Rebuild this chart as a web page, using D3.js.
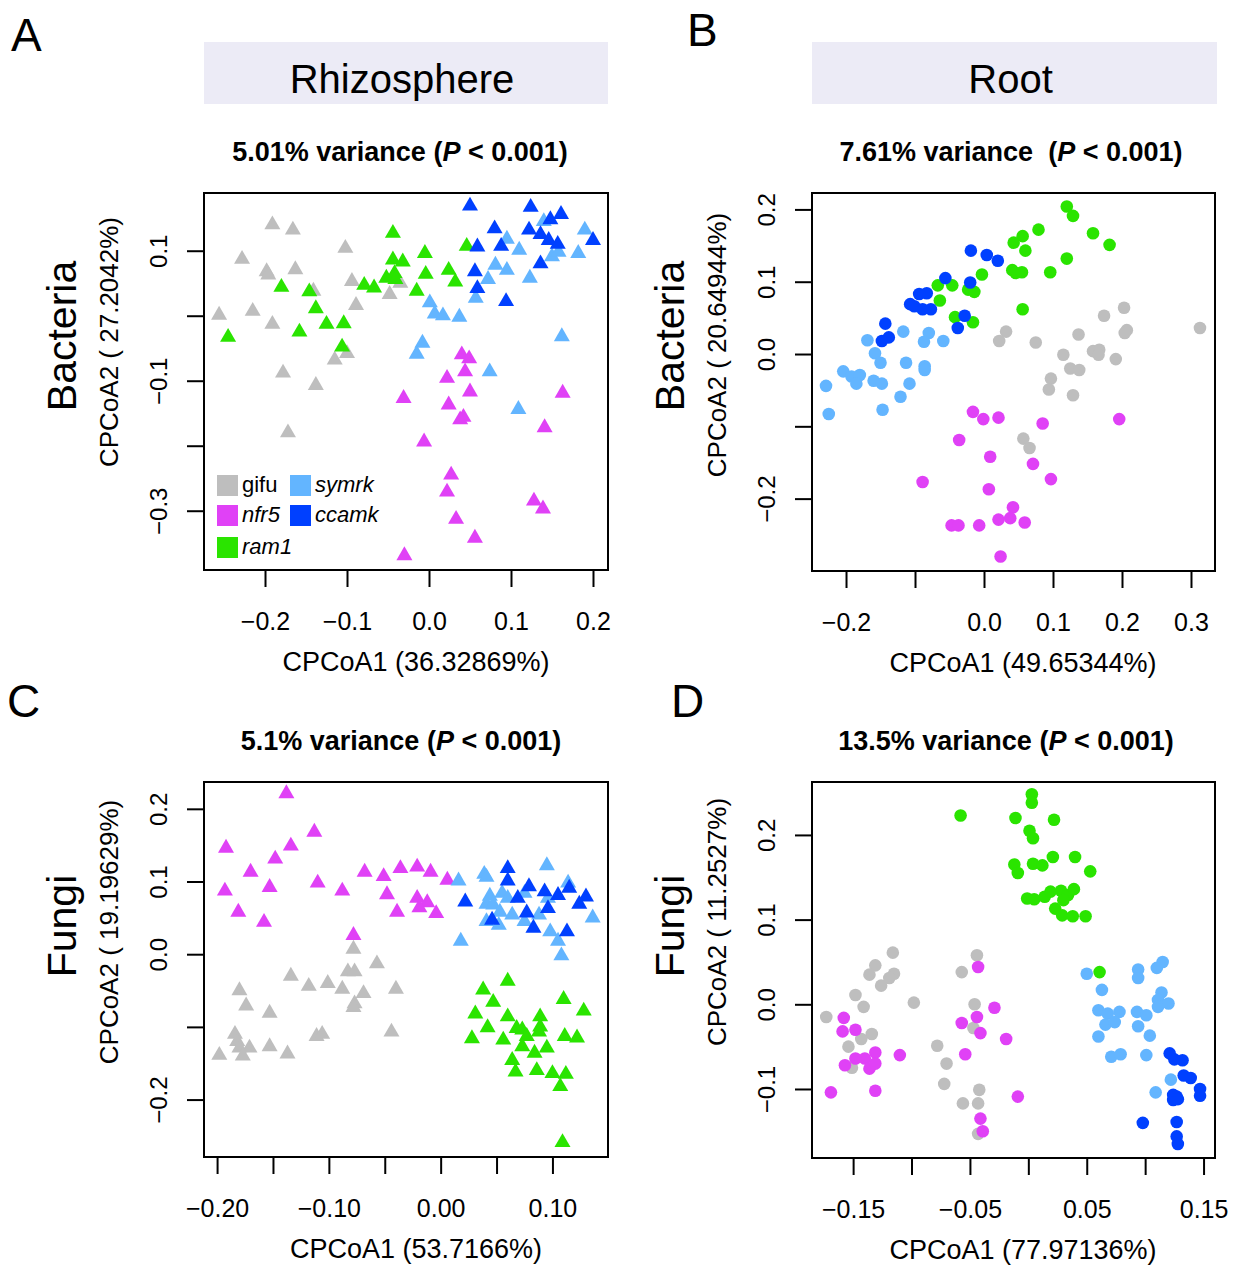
<!DOCTYPE html>
<html>
<head>
<meta charset="utf-8">
<script src="https://cdn.jsdelivr.net/npm/d3@7"></script>
<style>
body{margin:0;background:#fff;}
text{font-family:"Liberation Sans",Arial,Helvetica,sans-serif;fill:#000;}
</style>
</head>
<body>
<div id="chart"></div>
<script>
// genotypes, drawn in this order
const groups = ['gifu', 'nfr5', 'ram1', 'symrk', 'ccamk'];
const groupColors = ['#BEBEBE', '#E041F6', '#2AE400', '#63B5FF', '#0040FF'];

// A: rhizosphere, bacteria  [CPCoA1, CPCoA2]
const aGifu = [[-0.191,0.140],[-0.166,0.132],[-0.228,0.087],[-0.102,0.104],[-0.198,0.068],[-0.196,0.063],[-0.163,0.071],[-0.094,0.053],[-0.141,0.038],[-0.035,0.050],[-0.048,0.033],[-0.089,0.016],[-0.256,0.001],[-0.215,0.007],[-0.191,-0.013],[-0.100,-0.058],[-0.115,-0.068],[-0.178,-0.088],[-0.138,-0.107],[-0.172,-0.180]];
const aNfr5 = [[0.040,-0.060],[0.049,-0.066],[0.044,-0.086],[0.022,-0.096],[0.050,-0.117],[0.163,-0.119],[-0.031,-0.127],[0.024,-0.137],[0.042,-0.156],[0.038,-0.160],[0.141,-0.172],[-0.006,-0.194],[0.027,-0.245],[0.022,-0.271],[0.128,-0.285],[0.139,-0.297],[0.033,-0.313],[0.056,-0.342],[-0.030,-0.369]];
const aRam1 = [[-0.044,0.127],[0.046,0.107],[-0.005,0.096],[-0.044,0.086],[-0.032,0.083],[0.024,0.070],[-0.004,0.064],[-0.042,0.065],[-0.052,0.058],[-0.041,0.056],[0.032,0.052],[-0.079,0.047],[-0.067,0.043],[-0.015,0.038],[-0.180,0.044],[-0.146,0.037],[-0.138,0.011],[-0.125,-0.013],[-0.104,-0.012],[-0.158,-0.025],[-0.245,-0.033],[-0.106,-0.048]];
const aSymrk = [[0.190,0.132],[0.095,0.118],[0.110,0.101],[0.182,0.096],[0.150,0.091],[0.158,0.098],[0.081,0.078],[0.095,0.070],[0.072,0.056],[0.123,0.058],[0.057,0.027],[0.001,0.020],[0.007,0.003],[0.017,0.000],[0.037,-0.002],[0.162,-0.032],[-0.008,-0.042],[-0.015,-0.059],[0.074,-0.086],[0.109,-0.144],[0.140,0.145]];
const aCcamk = [[0.050,0.169],[0.124,0.167],[0.161,0.156],[0.148,0.148],[0.080,0.134],[0.122,0.132],[0.136,0.125],[0.146,0.116],[0.157,0.110],[0.200,0.116],[0.059,0.106],[0.088,0.107],[0.136,0.080],[0.056,0.068],[0.059,0.042],[0.094,0.022]];

// B: root, bacteria
const bGifu = [[0.203,0.064],[0.174,0.053],[0.313,0.036],[0.207,0.033],[0.204,0.029],[0.032,0.031],[0.137,0.027],[0.022,0.018],[0.075,0.016],[0.158,0.004],[0.167,0.006],[0.166,-0.001],[0.115,-0.001],[0.191,-0.007],[0.125,-0.020],[0.138,-0.022],[0.097,-0.034],[0.094,-0.049],[0.129,-0.057],[0.057,-0.117],[0.066,-0.130]];
const bNfr5 = [[-0.016,-0.080],[-0.001,-0.090],[0.021,-0.088],[0.196,-0.090],[0.085,-0.096],[-0.036,-0.119],[0.009,-0.142],[0.071,-0.152],[0.097,-0.173],[-0.089,-0.177],[0.007,-0.187],[0.042,-0.212],[0.038,-0.227],[0.021,-0.229],[0.059,-0.233],[-0.047,-0.237],[-0.037,-0.237],[-0.007,-0.237],[0.024,-0.280]];
const bRam1 = [[0.120,0.204],[0.129,0.191],[0.079,0.172],[0.158,0.167],[0.056,0.163],[0.043,0.154],[0.182,0.151],[0.060,0.143],[0.120,0.132],[0.041,0.116],[0.046,0.112],[0.055,0.113],[0.096,0.113],[-0.003,0.110],[-0.067,0.095],[-0.046,0.095],[-0.023,0.089],[-0.014,0.086],[-0.064,0.074],[0.056,0.062],[-0.042,0.051],[-0.016,0.044]];
const bSymrk = [[-0.117,0.031],[-0.080,0.029],[-0.087,0.017],[-0.169,0.019],[-0.059,0.018],[-0.158,0.001],[-0.150,-0.012],[-0.113,-0.012],[-0.086,-0.017],[-0.086,-0.022],[-0.204,-0.024],[-0.192,-0.031],[-0.180,-0.029],[-0.160,-0.037],[-0.148,-0.041],[-0.229,-0.044],[-0.185,-0.041],[-0.108,-0.041],[-0.121,-0.059],[-0.225,-0.083],[-0.147,-0.077]];
const bCcamk = [[-0.019,0.143],[0.004,0.137],[0.020,0.129],[-0.056,0.105],[-0.020,0.099],[-0.094,0.083],[-0.083,0.084],[-0.107,0.069],[-0.101,0.066],[-0.089,0.062],[-0.077,0.062],[-0.028,0.053],[-0.038,0.036],[-0.143,0.042],[-0.138,0.023],[-0.148,0.018]];

// C: rhizosphere, fungi
const cGifu = [[-0.078,0.007],[-0.057,-0.013],[-0.083,-0.024],[-0.077,-0.024],[-0.134,-0.030],[-0.118,-0.044],[-0.101,-0.040],[-0.088,-0.048],[-0.069,-0.054],[-0.040,-0.048],[-0.180,-0.050],[-0.077,-0.068],[-0.078,-0.073],[-0.174,-0.071],[-0.153,-0.081],[-0.044,-0.107],[-0.111,-0.113],[-0.106,-0.110],[-0.184,-0.110],[-0.182,-0.120],[-0.180,-0.129],[-0.171,-0.129],[-0.153,-0.127],[-0.177,-0.140],[-0.198,-0.139],[-0.137,-0.137]];
const cNfr5 = [[-0.138,0.221],[-0.113,0.168],[-0.192,0.146],[-0.134,0.149],[-0.148,0.131],[-0.170,0.113],[-0.068,0.113],[-0.051,0.107],[-0.036,0.118],[-0.021,0.120],[-0.009,0.113],[0.006,0.102],[-0.153,0.092],[-0.110,0.098],[-0.193,0.087],[-0.088,0.087],[-0.048,0.082],[-0.021,0.077],[-0.012,0.071],[-0.019,0.064],[-0.181,0.058],[-0.039,0.058],[-0.004,0.056],[-0.158,0.044],[-0.078,0.026]];
const cRam1 = [[0.060,-0.037],[0.038,-0.049],[0.047,-0.066],[0.110,-0.062],[0.031,-0.082],[0.060,-0.086],[0.089,-0.086],[0.128,-0.078],[0.042,-0.101],[0.068,-0.102],[0.073,-0.104],[0.089,-0.100],[0.088,-0.107],[0.077,-0.113],[0.028,-0.116],[0.056,-0.118],[0.111,-0.113],[0.122,-0.115],[0.073,-0.127],[0.095,-0.129],[0.084,-0.136],[0.064,-0.146],[0.067,-0.162],[0.086,-0.160],[0.100,-0.164],[0.112,-0.165],[0.107,-0.182],[0.109,-0.259]];
const cSymrk = [[0.016,0.101],[0.039,0.110],[0.041,0.106],[0.095,0.122],[0.114,0.098],[0.044,0.080],[0.055,0.084],[0.060,0.077],[0.041,0.069],[0.047,0.068],[0.053,0.058],[0.064,0.054],[0.041,0.045],[0.052,0.040],[0.075,0.045],[0.088,0.054],[0.136,0.050],[0.098,0.031],[0.105,0.018],[0.018,0.018],[0.108,-0.002],[0.075,0.084],[0.096,0.077]];
const cCcamk = [[0.060,0.118],[0.060,0.101],[0.079,0.093],[0.093,0.086],[0.105,0.081],[0.115,0.091],[0.130,0.079],[0.124,0.069],[0.069,0.077],[0.022,0.072],[0.096,0.063],[0.077,0.057],[0.046,0.047],[0.083,0.036],[0.113,0.031]];

// D: root, fungi
const dGifu = [[-0.116,0.061],[-0.044,0.058],[-0.131,0.046],[-0.136,0.035],[-0.115,0.036],[-0.119,0.031],[-0.126,0.022],[-0.057,0.038],[-0.148,0.011],[-0.098,0.002],[-0.141,-0.003],[-0.046,0.000],[-0.173,-0.015],[-0.134,-0.035],[-0.143,-0.041],[-0.047,-0.028],[-0.154,-0.050],[-0.078,-0.049],[-0.070,-0.070],[-0.151,-0.075],[-0.072,-0.094],[-0.042,-0.101],[-0.056,-0.117],[-0.043,-0.117],[-0.043,-0.153]];
const dNfr5 = [[-0.043,0.044],[-0.029,-0.004],[-0.158,-0.016],[-0.044,-0.015],[-0.057,-0.022],[-0.148,-0.030],[-0.159,-0.032],[-0.041,-0.034],[-0.019,-0.041],[-0.054,-0.059],[-0.110,-0.060],[-0.131,-0.057],[-0.140,-0.064],[-0.148,-0.064],[-0.157,-0.072],[-0.136,-0.076],[-0.131,-0.070],[-0.169,-0.104],[-0.131,-0.102],[-0.009,-0.109],[-0.041,-0.135],[-0.039,-0.150]];
const dRam1 = [[0.003,0.248],[0.003,0.238],[-0.058,0.223],[-0.011,0.220],[0.022,0.218],[0.001,0.205],[0.004,0.196],[-0.012,0.165],[-0.009,0.155],[0.004,0.166],[0.012,0.164],[0.021,0.174],[0.040,0.174],[0.053,0.157],[-0.001,0.125],[0.005,0.124],[0.014,0.127],[0.019,0.133],[0.028,0.134],[0.034,0.129],[0.039,0.136],[0.023,0.113],[0.029,0.105],[0.038,0.104],[0.049,0.104],[0.030,0.123],[0.061,0.038]];
const dSymrk = [[0.050,0.036],[0.094,0.041],[0.094,0.031],[0.115,0.050],[0.110,0.043],[0.063,0.017],[0.114,0.014],[0.111,0.005],[0.120,0.001],[0.060,-0.007],[0.068,-0.011],[0.078,-0.009],[0.093,-0.009],[0.101,-0.013],[0.111,-0.003],[0.066,-0.024],[0.074,-0.021],[0.094,-0.026],[0.060,-0.038],[0.104,-0.037],[0.071,-0.062],[0.079,-0.059],[0.101,-0.060],[0.122,-0.089],[0.109,-0.104]];
const dCcamk = [[0.121,-0.058],[0.125,-0.065],[0.132,-0.066],[0.133,-0.084],[0.139,-0.087],[0.147,-0.100],[0.147,-0.108],[0.124,-0.107],[0.127,-0.109],[0.124,-0.113],[0.128,-0.112],[0.098,-0.140],[0.127,-0.139],[0.127,-0.156],[0.128,-0.165]];

// axis limits and ticks
const aXLim = [-0.2744, 0.2183], aYLim = [-0.3912, 0.1888];
const bXLim = [-0.2493, 0.3348], bYLim = [-0.3001, 0.2227];
const cXLim = [-0.2117, 0.1497], cYLim = [-0.2790, 0.2369];
const dXLim = [-0.1852, 0.1598], dYLim = [-0.1815, 0.2625];

const aXTicks = [-0.2, -0.1, 0, 0.1, 0.2];
const aXLabels = ['\u22120.2', '\u22120.1', '0.0', '0.1', '0.2'];
const aYTicks = [-0.3, -0.2, -0.1, 0, 0.1];
const aYLabels = ['\u22120.3', '', '\u22120.1', '', '0.1'];
const bXTicks = [-0.2, -0.1, 0, 0.1, 0.2, 0.3];
const bXLabels = ['\u22120.2', '', '0.0', '0.1', '0.2', '0.3'];
const bYTicks = [-0.2, -0.1, 0, 0.1, 0.2];
const bYLabels = ['\u22120.2', '', '0.0', '0.1', '0.2'];
const cXTicks = [-0.2, -0.15, -0.1, -0.05, 0, 0.05, 0.1];
const cXLabels = ['\u22120.20', '', '\u22120.10', '', '0.00', '', '0.10'];
const cYTicks = [-0.2, -0.1, 0, 0.1, 0.2];
const cYLabels = ['\u22120.2', '', '0.0', '0.1', '0.2'];
const dXTicks = [-0.15, -0.1, -0.05, 0, 0.05, 0.1, 0.15];
const dXLabels = ['\u22120.15', '', '\u22120.05', '', '0.05', '', '0.15'];
const dYTicks = [-0.1, 0, 0.1, 0.2];
const dYLabels = ['\u22120.1', '0.0', '0.1', '0.2'];

const svg = d3.select('#chart').append('svg')
    .attr('width', 1236)
    .attr('height', 1266);

// column headers
function header(x0, x1, label){
    svg.append('rect').attr('x', x0).attr('y', 42).attr('width', x1 - x0).attr('height', 62)
       .attr('fill', '#ECEBF6');
    svg.append('text').attr('x', (x0 + x1) / 2 - 4).attr('y', 93)
       .attr('text-anchor', 'middle').attr('font-size', 40).text(label);
}
header(204, 608, 'Rhizosphere');
header(812, 1217, 'Root');

function drawPanel(p){
    const x = d3.scaleLinear().domain(p.xLim).range([p.x0, p.x1]);
    const y = d3.scaleLinear().domain(p.yLim).range([p.y1, p.y0]);

    // points
    const tri = d3.symbol().type(d3.symbolTriangle).size(111);
    p.series.forEach((pts, gi) => {
        const g = svg.append('g').attr('fill', groupColors[gi]);
        if (p.shape === 'triangle') {
            g.selectAll('path').data(pts).enter().append('path')
             .attr('d', tri)
             .attr('transform', d => `translate(${x(d[0])},${y(d[1])})`);
        } else {
            g.selectAll('circle').data(pts).enter().append('circle')
             .attr('cx', d => x(d[0])).attr('cy', d => y(d[1])).attr('r', 6.3);
        }
    });

    svg.append('rect').attr('x', p.x0).attr('y', p.y0)
       .attr('width', p.x1 - p.x0).attr('height', p.y1 - p.y0)
       .attr('fill', 'none').attr('stroke', '#000').attr('stroke-width', 2);

    const xAxis = d3.axisBottom(x).tickValues(p.xTicks)
        .tickFormat((d, i) => p.xLabels[i]).tickSizeInner(17).tickSizeOuter(0);
    const gx = svg.append('g').attr('transform', `translate(0,${p.y1})`).call(xAxis);
    gx.select('.domain').remove();
    gx.selectAll('line').attr('stroke', '#000').attr('stroke-width', 2);
    gx.selectAll('text').attr('y', 60).attr('dy', null).attr('font-size', 25);

    const yAxis = d3.axisLeft(y).tickValues(p.yTicks)
        .tickFormat((d, i) => p.yLabels[i]).tickSizeInner(17).tickSizeOuter(0);
    const gy = svg.append('g').attr('transform', `translate(${p.x0},0)`).call(yAxis);
    gy.select('.domain').remove();
    gy.selectAll('line').attr('stroke', '#000').attr('stroke-width', 2);
    gy.selectAll('text').attr('x', 0).attr('dy', null)
      .attr('transform', 'translate(-37,0) rotate(-90)')
      .attr('text-anchor', 'middle').attr('font-size', 24);

    // title
    const t = svg.append('text').attr('x', p.titleX).attr('y', p.y0 - 32)
        .attr('text-anchor', 'middle').attr('font-size', 27).attr('font-weight', 'bold')
        .style('white-space', 'pre');
    t.append('tspan').text(p.title[0]);
    t.append('tspan').attr('font-style', 'italic').text('P');
    t.append('tspan').text(' < 0.001)');

    svg.append('text').attr('x', p.xTitleX).attr('y', p.y1 + 101)
       .attr('text-anchor', 'middle').attr('font-size', 27).text(p.xTitle);
    svg.append('text').attr('transform', `translate(${p.x0 - 86},${p.yTitleY}) rotate(-90)`)
       .attr('text-anchor', 'middle').attr('font-size', 26).text(p.yTitle);
    svg.append('text').attr('transform', `translate(${p.x0 - 128},${p.rowY}) rotate(-90)`)
       .attr('text-anchor', 'middle').attr('font-size', 41).text(p.row);
    svg.append('text').attr('x', p.letterX).attr('y', p.letterY)
       .attr('font-size', 46).text(p.letter);
}

drawPanel({x0:204, x1:608, y0:193, y1:570, xLim:aXLim, yLim:aYLim,
    xTicks:aXTicks, xLabels:aXLabels, yTicks:aYTicks, yLabels:aYLabels,
    series:[aGifu, aNfr5, aRam1, aSymrk, aCcamk], shape:'triangle',
    title:['5.01% variance ('], titleX:400,
    xTitle:'CPCoA1 (36.32869%)', xTitleX:416,
    yTitle:'CPCoA2 ( 27.2042%)', yTitleY:342,
    row:'Bacteria', rowY:336, letter:'A', letterX:11, letterY:51});

drawPanel({x0:812, x1:1215, y0:193, y1:571, xLim:bXLim, yLim:bYLim,
    xTicks:bXTicks, xLabels:bXLabels, yTicks:bYTicks, yLabels:bYLabels,
    series:[bGifu, bNfr5, bRam1, bSymrk, bCcamk], shape:'circle',
    title:['7.61% variance  ('], titleX:1011,
    xTitle:'CPCoA1 (49.65344%)', xTitleX:1023,
    yTitle:'CPCoA2 ( 20.64944%)', yTitleY:345,
    row:'Bacteria', rowY:336, letter:'B', letterX:687, letterY:46});

drawPanel({x0:204, x1:608, y0:782, y1:1157, xLim:cXLim, yLim:cYLim,
    xTicks:cXTicks, xLabels:cXLabels, yTicks:cYTicks, yLabels:cYLabels,
    series:[cGifu, cNfr5, cRam1, cSymrk, cCcamk], shape:'triangle',
    title:['5.1% variance ('], titleX:401,
    xTitle:'CPCoA1 (53.7166%)', xTitleX:416,
    yTitle:'CPCoA2 ( 19.19629%)', yTitleY:932,
    row:'Fungi', rowY:926, letter:'C', letterX:7, letterY:717});

drawPanel({x0:812, x1:1215, y0:782, y1:1158, xLim:dXLim, yLim:dYLim,
    xTicks:dXTicks, xLabels:dXLabels, yTicks:dYTicks, yLabels:dYLabels,
    series:[dGifu, dNfr5, dRam1, dSymrk, dCcamk], shape:'circle',
    title:['13.5% variance ('], titleX:1006,
    xTitle:'CPCoA1 (77.97136%)', xTitleX:1023,
    yTitle:'CPCoA2 ( 11.2527%)', yTitleY:922,
    row:'Fungi', rowY:926, letter:'D', letterX:671, letterY:717});

// legend in panel A
const legendRows = [[217, 475], [217, 505], [217, 537], [290, 475], [290, 505]];
const leg = svg.append('g');
groups.forEach((name, i) => {
    const [lx, ly] = legendRows[i];
    leg.append('rect').attr('x', lx).attr('y', ly).attr('width', 21).attr('height', 21)
       .attr('fill', groupColors[i]);
    leg.append('text').attr('x', lx + 25).attr('y', ly + 17).attr('font-size', 22)
       .attr('font-style', i === 0 ? 'normal' : 'italic').text(name);
});
</script>
</body>
</html>
